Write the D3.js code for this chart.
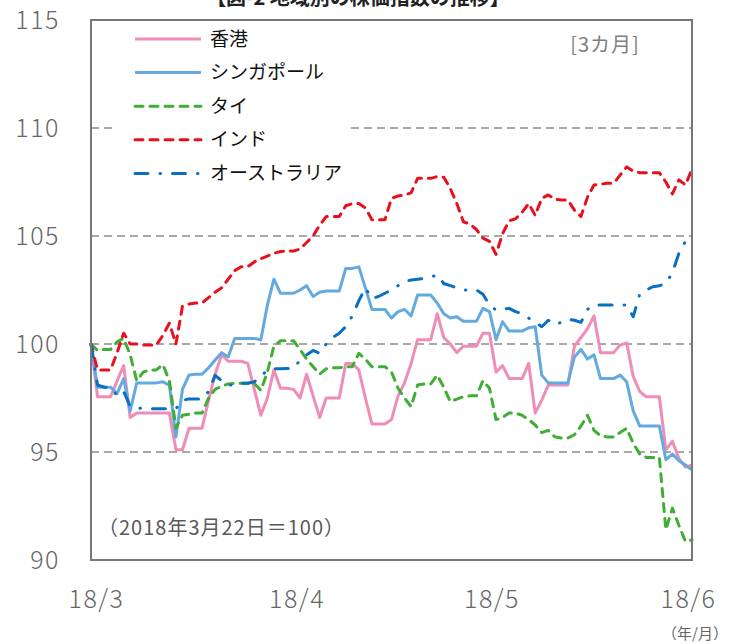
<!DOCTYPE html>
<html>
<head>
<meta charset="utf-8">
<script src="https://cdn.jsdelivr.net/npm/d3@7"></script>
<style>
  body { margin: 0; background: #fff; }
  svg { display: block; font-family: "Noto Sans CJK JP", "Noto Sans", sans-serif; }
</style>
</head>
<body>
<div class="chart"></div>
<script>
// daily values from 2018/3/22 (day 0) to 2018/6/22 (day 92), weekends carried forward
const hongKong = [
  100, 97.56, 97.56, 97.56, 98.3, 99.0, 96.6, 96.8, 96.8, 96.8,
  96.8, 96.8, 96.8, 95.1, 95.1, 96.1, 96.1, 96.1, 97.4, 98.6,
  99.5, 99.2, 99.2, 99.2, 99.1, 97.9, 96.7, 97.5, 98.8, 97.95,
  97.95, 97.9, 97.5, 98.6, 97.6, 96.6, 97.5, 97.5, 97.5, 99.1,
  99.1, 98.8, 97.5, 96.3, 96.3, 96.3, 96.5, 97.6, 98.2, 99.1,
  100.2, 100.2, 100.2, 101.4, 100.3, 100.0, 99.6, 99.9, 99.9, 99.9,
  100.5, 100.5, 98.7, 99.0, 98.4, 98.4, 98.4, 99.1, 96.8, 97.4,
  98.1, 98.1, 98.1, 98.1, 99.9, 100.3, 100.7, 101.3, 99.6, 99.6,
  99.6, 99.95, 100.05, 98.5, 97.8, 97.56, 97.56, 97.56, 95.1, 95.5,
  94.7, 94.3, 94.4
];
const singapore = [
  100, 98.0, 98.0, 98.0, 97.7, 98.4, 96.9, 98.2, 98.2, 98.2,
  98.2, 98.25, 98.1, 95.7, 97.9, 98.56, 98.6, 98.6, 98.9, 99.26,
  99.6, 99.4, 100.26, 100.26, 100.26, 100.26, 100.2, 101.8, 103.0, 102.35,
  102.35, 102.35, 102.5, 102.7, 102.2, 102.4, 102.45, 102.45, 102.45, 103.5,
  103.5, 103.57, 102.6, 101.6, 101.6, 101.6, 101.2, 101.5, 101.6, 101.3,
  102.27, 102.27, 102.27, 101.9, 101.4, 101.2, 101.26, 101.05, 101.05, 101.05,
  101.65, 101.5, 100.2, 101.03, 100.6, 100.6, 100.6, 100.75, 100.8, 98.56,
  98.2, 98.2, 98.2, 98.2, 99.4, 99.75, 99.3, 99.5, 98.4, 98.4,
  98.4, 98.56, 98.25, 96.9, 96.2, 96.2, 96.2, 96.2, 94.65, 94.9,
  94.6, 94.4, 94.17
];
const thailand = [
  100, 99.7, 99.75, 99.75, 100.1, 100.26, 99.5, 98.3, 98.7, 98.8,
  98.8, 99.05, 98.3, 96.1, 96.7, 96.75, 96.8, 96.8, 97.5, 97.9,
  98.05, 98.15, 98.18, 98.18, 98.18, 98.18, 97.85, 98.7, 99.9, 100.15,
  100.15, 100.15, 99.75, 99.3, 98.95, 98.6, 98.85, 98.9, 98.9, 98.95,
  98.95, 99.57, 99.3, 98.95, 98.95, 98.95, 98.7, 97.95, 97.5, 97.1,
  98.1, 98.15, 98.15, 98.56, 98.0, 97.33, 97.45, 97.56, 97.6, 97.6,
  98.3, 97.95, 96.5, 96.6, 96.8, 96.8, 96.7, 96.5, 96.25, 95.9,
  96.0, 95.7, 95.65, 95.65, 95.8, 96.2, 96.7, 96.0, 95.75, 95.7,
  95.7, 95.9, 96.1, 95.4, 94.9, 94.75, 94.75, 94.75, 91.4, 92.4,
  91.6, 90.85, 90.93
];
const india = [
  100, 98.8, 98.8, 98.8, 99.6, 100.5, 100.0, 100.0, 99.95, 99.95,
  99.95, 100.4, 100.96, 100.0, 101.75, 101.85, 101.9, 101.9, 102.15, 102.4,
  102.6, 103.0, 103.4, 103.58, 103.58, 103.8, 103.95, 104.07, 104.2, 104.28,
  104.3, 104.3, 104.4, 104.7, 105.0, 105.5, 105.9, 105.9, 105.9, 106.4,
  106.5, 106.5, 106.3, 105.75, 105.75, 105.75, 106.75, 106.85, 106.9, 107.0,
  107.67, 107.67, 107.67, 107.75, 107.72, 107.2, 106.5, 105.66, 105.55, 105.3,
  104.9, 104.75, 104.15, 105.1, 105.7, 105.8, 106.1, 106.5, 105.95, 106.75,
  106.9, 106.7, 106.67, 106.67, 106.2, 105.9, 106.8, 107.36, 107.4, 107.44,
  107.44, 107.82, 108.2, 108.0, 107.93, 107.93, 107.93, 107.93, 107.5, 106.95,
  107.6, 107.36, 108.1
];
const australia = [
  100, 98.1, 98.0, 98.0, 97.6, 97.8, 97.1, 97.05, 97.0, 97.0,
  97.0, 97.0, 97.0, 97.0, 97.4, 97.45, 97.45, 97.45, 97.8, 98.55,
  98.3, 98.1, 98.1, 98.18, 98.18, 98.25, 98.5, 98.8, 98.85, 98.85,
  98.87, 98.87, 99.25, 99.5, 99.7, 99.57, 100.0, 100.3, 100.5, 100.8,
  101.3, 102.0, 102.6, 102.1, 102.2, 102.35, 102.5, 102.7, 102.9, 102.96,
  103.0, 103.04, 103.1, 103.2, 102.8, 102.7, 102.6, 102.5, 102.5, 102.5,
  102.3, 101.8, 101.57, 101.6, 101.65, 101.5, 101.4, 101.2, 101.0, 100.8,
  101.1, 100.9, 101.0, 101.14, 101.1, 101.0, 101.6, 101.8, 101.8, 101.8,
  101.8, 101.8, 101.8, 101.26, 102.3, 102.5, 102.65, 102.7, 102.8, 103.3,
  104.2, 104.75, 104.95
];

const seriesNames = ["香港", "シンガポール", "タイ", "インド", "オーストラリア"];
const xTickDays = [0, 31, 61, 92];
const xTickLabels = ["18/3", "18/4", "18/5", "18/6"];
const yTicks = [90, 95, 100, 105, 110, 115];

const series = [
  { name: seriesNames[0], values: hongKong, color: "#f08cb8", dash: null },
  { name: seriesNames[1], values: singapore, color: "#62aadf", dash: null },
  { name: seriesNames[2], values: thailand, color: "#3fae34", dash: "8 7" },
  { name: seriesNames[3], values: india, color: "#e8101c", dash: "8 7" },
  { name: seriesNames[4], values: australia, color: "#0a6fc0", dash: "13 12 0.5 12" },
];

const width = 729;
const height = 644;
const plot = { left: 91, right: 692, top: 20, bottom: 560 };
const labelShift = [5, 3, 2, -4]; // x labels sit a little inside the ends

const svg = d3
  .select(".chart")
  .append("svg")
  .attr("width", width)
  .attr("height", height);

svg.append("rect").attr("width", width).attr("height", height).attr("fill", "#fff");

const xScale = d3.scaleLinear().domain([0, 92]).range([plot.left, plot.right]);
const yScale = d3.scaleLinear().domain([90, 115]).range([plot.bottom, plot.top]);

// title, cut off at the top of the picture as in the original
svg
  .append("text")
  .attr("x", 358)
  .attr("y", 5)
  .attr("text-anchor", "middle")
  .style("font-size", "20px")
  .style("font-weight", "bold")
  .attr("fill", "#222")
  .text("【図-2 地域別の株価指数の推移】");

// grid lines
svg
  .selectAll(".grid")
  .data([95, 100, 105, 110])
  .enter()
  .append("line")
  .attr("class", "grid")
  .attr("x1", plot.left)
  .attr("x2", plot.right)
  .attr("y1", (d) => yScale(d))
  .attr("y2", (d) => yScale(d))
  .attr("stroke", "#8c8c8c")
  .attr("stroke-width", 1.5)
  .attr("stroke-dasharray", "8 5");

// y axis labels
const yAxis = svg
  .append("g")
  .attr("transform", "translate(" + 60 + ",0)")
  .call(d3.axisLeft(yScale).tickValues(yTicks).tickSize(0).tickPadding(0));
yAxis.select(".domain").remove();
yAxis
  .selectAll("text")
  .style("font-size", "25px")
  .style("letter-spacing", "1.5px")
  .style("font-weight", "300")
  .style("font-family", '"Noto Sans CJK JP", sans-serif')
  .attr("fill", "#666");

// x axis labels
const xAxis = svg
  .append("g")
  .attr("transform", "translate(0," + 590 + ")")
  .call(
    d3
      .axisBottom(xScale)
      .tickValues(xTickDays)
      .tickFormat((d, i) => xTickLabels[i])
      .tickSize(0)
      .tickPadding(0)
  );
xAxis.select(".domain").remove();
xAxis
  .selectAll("text")
  .attr("dx", (d, i) => labelShift[i])
  .style("font-size", "25px")
  .style("letter-spacing", "1.5px")
  .style("font-weight", "300")
  .style("font-family", '"Noto Sans CJK JP", sans-serif')
  .attr("fill", "#666");

svg
  .append("text")
  .attr("x", 695)
  .attr("y", 639)
  .attr("text-anchor", "middle")
  .style("font-size", "15px")
  .attr("fill", "#666")
  .text("（年/月）");

// legend box (covers the grid line behind it)
svg
  .append("rect")
  .attr("x", 112)
  .attr("y", 24)
  .attr("width", 238)
  .attr("height", 166)
  .attr("fill", "#fff");

const line = d3
  .line()
  .x((d, i) => xScale(i))
  .y((d) => yScale(d));

svg
  .selectAll(".series")
  .data(series)
  .enter()
  .append("path")
  .attr("class", "series")
  .attr("d", (d) => line(d.values))
  .attr("fill", "none")
  .attr("stroke", (d) => d.color)
  .attr("stroke-width", 3)
  .attr("stroke-linejoin", "round")
  .attr("stroke-linecap", (d) => (d.dash ? "round" : "butt"))
  .attr("stroke-dasharray", (d) => d.dash);

// frame
svg
  .append("rect")
  .attr("x", plot.left)
  .attr("y", plot.top)
  .attr("width", plot.right - plot.left)
  .attr("height", plot.bottom - plot.top)
  .attr("fill", "none")
  .attr("stroke", "#777")
  .attr("stroke-width", 2);

// legend
const legend = svg
  .selectAll(".legend")
  .data(series)
  .enter()
  .append("g")
  .attr("class", "legend")
  .attr("transform", (d, i) => "translate(135," + (39 + i * 33.6) + ")");

legend
  .append("line")
  .attr("x1", 0)
  .attr("x2", 66)
  .attr("stroke", (d) => d.color)
  .attr("stroke-width", 3)
  .attr("stroke-linecap", (d) => (d.dash ? "round" : "butt"))
  .attr("stroke-dasharray", (d) => d.dash);

legend
  .append("text")
  .attr("x", 75)
  .attr("dy", "0.35em")
  .style("font-size", "19px")
  .attr("fill", "#111")
  .text((d) => d.name);

svg
  .append("text")
  .attr("x", 605)
  .attr("y", 52)
  .attr("text-anchor", "middle")
  .style("font-size", "20px")
  .style("letter-spacing", "1px")
  .attr("fill", "#7f7f7f")
  .text("[3カ月]");

svg
  .append("text")
  .attr("x", 98)
  .attr("y", 535)
  .style("font-size", "20px")
  .style("letter-spacing", "1px")
  .attr("fill", "#595959")
  .text("（2018年3月22日＝100）");
</script>
</body>
</html>
